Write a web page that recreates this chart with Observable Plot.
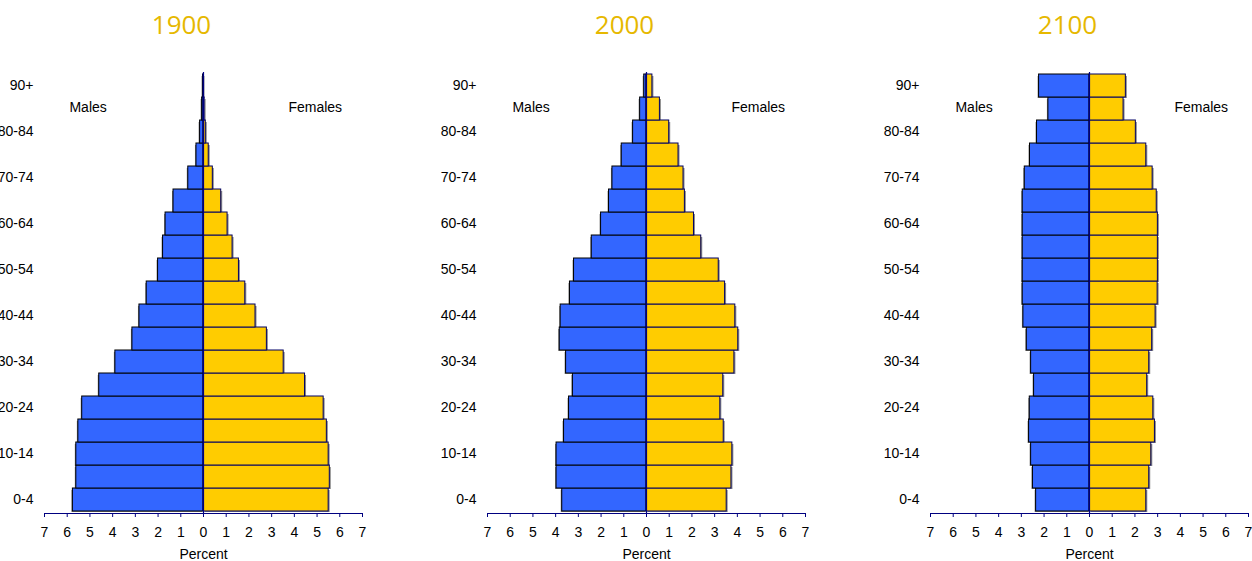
<!DOCTYPE html>
<html><head><meta charset="utf-8">
<script src="https://cdn.jsdelivr.net/npm/d3@7"></script>
<script src="https://cdn.jsdelivr.net/npm/@observablehq/plot@0.6"></script>
<style>
body{margin:0;background:#fff;overflow:hidden}
#wrap{display:flex;margin-left:-2px;width:1340px}
#wrap svg{flex:none}
</style></head><body><div id="wrap"></div>
<script>
const ages = ["0-4","5-9","10-14","15-19","20-24","25-29","30-34","35-39","40-44","45-49","50-54","55-59","60-64","65-69","70-74","75-79","80-84","85-89","90+"];
const labeledAges = ["0-4","10-14","20-24","30-34","40-44","50-54","60-64","70-74","80-84","90+"];
const years = ["1900","2000","2100"];
const xTicks = [-7,-6,-5,-4,-3,-2,-1,0,1,2,3,4,5,6,7];
const sexLabels = ["Males","Females"];
const sexLabelX = [-5.08, 4.92];

const males1900   = [5.75,5.6,5.6,5.51,5.34,4.59,3.88,3.13,2.82,2.5,2.0,1.78,1.67,1.32,0.67,0.31,0.15,0.06,0.02];
const females1900 = [5.51,5.56,5.51,5.43,5.29,4.47,3.53,2.79,2.29,1.84,1.56,1.28,1.06,0.78,0.41,0.23,0.1,0.05,0.02];
const males2000   = [3.71,3.96,3.96,3.63,3.41,3.24,3.54,3.82,3.78,3.37,3.19,2.41,2.0,1.65,1.5,1.09,0.59,0.28,0.1];
const females2000 = [3.53,3.74,3.78,3.4,3.25,3.38,3.87,4.04,3.91,3.46,3.18,2.41,2.09,1.69,1.63,1.41,1.0,0.59,0.26];
const males2100   = [2.35,2.49,2.57,2.66,2.63,2.44,2.57,2.76,2.91,2.94,2.94,2.94,2.94,2.94,2.85,2.62,2.31,1.81,2.22];
const females2100 = [2.5,2.63,2.72,2.88,2.81,2.54,2.63,2.76,2.91,3.0,3.01,3.01,3.01,2.96,2.78,2.5,2.04,1.5,1.6];

const seriesByYear = {
  "1900": [males1900, females1900],
  "2000": [males2000, females2000],
  "2100": [males2100, females2100]
};

const FONT = "'Liberation Sans', Arial, sans-serif";

function pyramid(year) {
  const [m, f] = seriesByYear[year];
  const rows = ages.map((age, i) => ({age, male: m[i], female: f[i]}));
  return Plot.plot({
    width: 443,
    height: 561,
    marginLeft: 46,
    marginRight: 79,
    marginTop: 72,
    marginBottom: 48,
    style: {fontFamily: FONT, fontSize: "14px", background: "white", color: "black", overflow: "visible"},
    x: {domain: [-7, 7], label: null},
    y: {domain: ages.slice().reverse(), padding: 0, label: null},
    marks: [
      // shadows
      Plot.barX(rows, {x1: 0, x2: d => -d.male, y: "age", fill: "#8a8a8a", dx: -1, dy: 1, insetTop: 1}),
      Plot.barX(rows, {x1: 0, x2: d => d.female, y: "age", fill: "#8a8a8a", dx: 1.5, dy: 1, insetTop: 1}),
      Plot.barX(rows, {x1: 0, x2: d => -d.male, y: "age", fill: "#3366FF", stroke: "black", strokeWidth: 1}),
      Plot.barX(rows, {x1: 0, x2: d => d.female, y: "age", fill: "#FFCC00", stroke: "#000066", strokeWidth: 1}),
      Plot.ruleX([0], {stroke: "#000080", strokeWidth: 1.2}),
      Plot.frame({anchor: "bottom", stroke: "#000080"}),
      Plot.axisX({ticks: xTicks, tickFormat: d => Math.abs(d), tickSize: 4, tickPadding: 10, stroke: "#000080", fill: "black", fontSize: 14, label: null}),
      Plot.axisY({ticks: labeledAges, tickSize: 0, tickPadding: 11, fill: "black", fontSize: 14, label: null}),
      Plot.text(sexLabels, {x: (d, i) => sexLabelX[i], y: () => "85-89", text: d => d, fontSize: 14, fill: "black", dy: -1.5}),
      Plot.text(["Percent"], {frameAnchor: "bottom", lineAnchor: "middle", dy: 41, fontSize: 14, fill: "black"}),
      Plot.text([year], {frameAnchor: "top", lineAnchor: "middle", dx: -22, dy: -47, fontSize: 26, fill: "#E6B800", fontFamily: "'Open Sans', sans-serif"})
    ]
  });
}

const wrap = document.getElementById("wrap");
for (const y of years) wrap.appendChild(pyramid(y));
</script>
</body></html>
